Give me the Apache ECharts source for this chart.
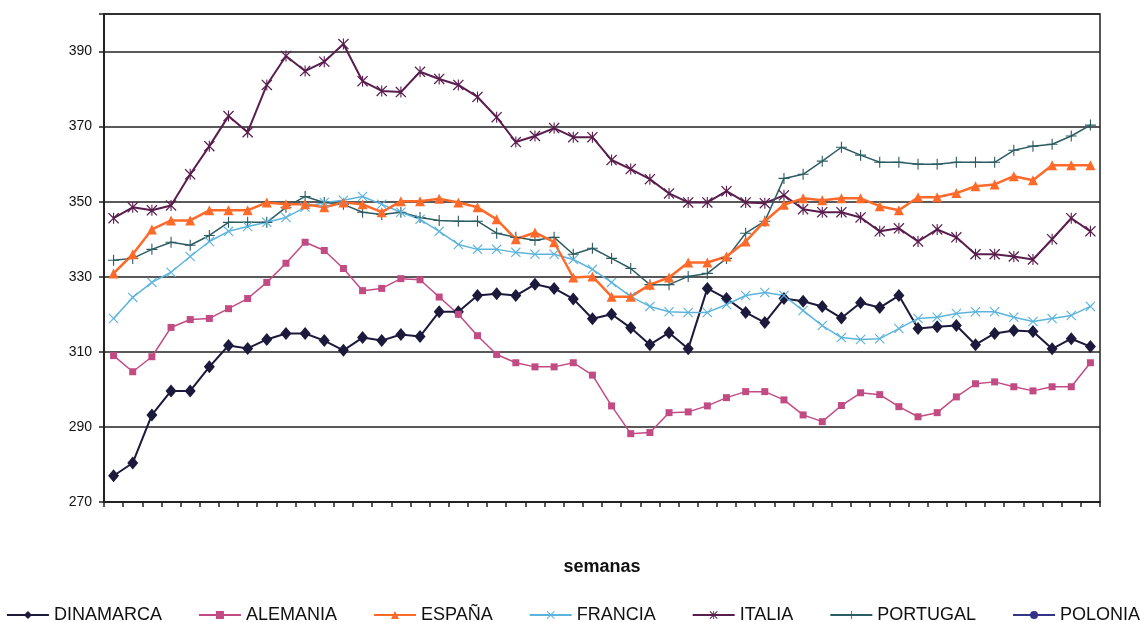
<!DOCTYPE html>
<html>
<head>
<meta charset="utf-8">
<script src="https://cdn.jsdelivr.net/npm/echarts@6/dist/echarts.min.js"></script>
<style>html,body{margin:0;padding:0;background:#fff}#c{width:1146px;height:622px}</style>
</head>
<body>
<div id="c"></div>
<script>
const weeks = ['1','2','3','4','5','6','7','8','9','10','11','12','13','14','15','16','17','18','19','20','21','22','23','24','25','26','27','28','29','30','31','32','33','34','35','36','37','38','39','40','41','42','43','44','45','46','47','48','49','50','51','52'];
const yTicks = [270, 290, 310, 330, 350, 370, 390];

const dinamarca = [277, 280.4, 293.2, 299.6, 299.6, 306, 311.7, 310.9, 313.3, 314.9, 314.9, 313, 310.4, 313.8, 313, 314.6, 314.1, 320.7, 320.7, 325, 325.5, 325, 328, 326.9, 324.1, 318.8, 320, 316.4, 311.9, 315.1, 310.8, 326.9, 324.2, 320.5, 317.8, 324.2, 323.5, 322.1, 319, 323.1, 321.8, 325, 316.2, 316.7, 317, 311.9, 314.9, 315.7, 315.4, 310.8, 313.5, 311.4];
const alemania = [309, 304.7, 308.7, 316.5, 318.6, 318.9, 321.5, 324.2, 328.5, 333.6, 339.2, 337, 332.2, 326.3, 326.9, 329.5, 329.2, 324.6, 320, 314.3, 309.3, 307.1, 306, 306, 307.1, 303.8, 295.6, 288.2, 288.5, 293.8, 294, 295.6, 297.8, 299.4, 299.4, 297.2, 293.2, 291.4, 295.7, 299.1, 298.6, 295.4, 292.7, 293.8, 298, 301.5, 302, 300.7, 299.6, 300.7, 300.7, 307.1];
const espana = [330.9, 336, 342.6, 345, 345, 347.7, 347.7, 347.7, 349.8, 349.3, 349.3, 348.5, 349.8, 349.3, 347.2, 350.1, 350.1, 350.8, 349.8, 348.5, 345.3, 340, 341.8, 339.2, 329.8, 330.1, 324.7, 324.7, 327.9, 329.8, 333.8, 333.8, 335.4, 339.4, 344.8, 349.2, 350.9, 350.4, 350.9, 350.9, 348.8, 347.7, 351.2, 351.2, 352.3, 354.1, 354.6, 356.8, 355.7, 359.7, 359.7, 359.7];
const francia = [318.9, 324.5, 328.5, 331.2, 335.4, 339.4, 342.1, 343.4, 344.5, 345.8, 348.5, 349.8, 350.4, 351.4, 349.3, 347.2, 345.3, 342.1, 338.6, 337.3, 337.3, 336.5, 336, 336, 334.6, 332, 328.5, 324.7, 322.1, 320.7, 320.5, 320.5, 322.6, 325, 325.8, 325, 321, 317, 313.8, 313.3, 313.5, 316.2, 318.9, 319.2, 320.2, 320.7, 320.7, 319.2, 318.1, 318.9, 319.7, 322.1];
const italia = [345.6, 348.5, 347.7, 349, 357.3, 364.8, 372.8, 368.5, 381.1, 388.8, 384.8, 387.3, 392, 382.1, 379.5, 379.2, 384.6, 382.7, 381.1, 377.9, 372.5, 365.9, 367.5, 369.6, 367.2, 367.2, 361.1, 358.7, 356, 352.2, 349.8, 349.8, 352.8, 349.8, 349.6, 351.7, 348, 347.2, 347.2, 345.8, 342.1, 342.9, 339.4, 342.6, 340.5, 336, 336, 335.4, 334.6, 340, 345.6, 342.1];
const portugal = [334.4, 334.9, 337.3, 339.2, 338.4, 341, 344.5, 344.5, 344.5, 348.5, 351.4, 349.8, 349.3, 347.2, 346.6, 347.2, 345.8, 345, 344.8, 344.8, 341.6, 340.5, 339.7, 340.5, 336, 337.6, 334.9, 332.2, 327.9, 327.9, 330.1, 330.9, 334.9, 341.6, 344.8, 356.2, 357.3, 360.8, 364.5, 362.4, 360.5, 360.5, 360, 360, 360.5, 360.5, 360.5, 363.7, 364.8, 365.3, 367.5, 370.4];
const polonia = [];

const X_PATH = 'path://M0,1.6L1.6,0L10,8.4L18.4,0L20,1.6L11.6,10L20,18.4L18.4,20L10,11.6L1.6,20L0,18.4L8.4,10Z';
const PLUS_PATH = 'path://M9,0H11V9H20V11H11V20H9V11H0V9H9Z';
const STAR_PATH = 'path://M0,1.6L1.6,0L10,8.4L18.4,0L20,1.6L11.6,10L20,18.4L18.4,20L10,11.6L1.6,20L0,18.4L8.4,10Z M9,0H11V20H9Z';

function mk(name, data, color, symbol, size, width) {
  return {
    name: name, type: 'line', data: data, symbol: symbol, symbolSize: size,
    showAllSymbol: true, animation: false,
    lineStyle: { color: color, width: width },
    itemStyle: { color: color, borderWidth: 0 }
  };
}

const chart = echarts.init(document.getElementById('c'), null, { renderer: 'canvas' });
chart.setOption({
  backgroundColor: '#ffffff',
  animation: false,
  grid: { left: 104, right: 46, top: 14, bottom: 120, show: true, borderColor: '#222', borderWidth: 1.5, backgroundColor: 'transparent' },
  xAxis: {
    type: 'category', data: weeks, boundaryGap: true,
    name: 'semanas', nameLocation: 'middle', nameGap: 56,
    nameTextStyle: { fontFamily: 'Liberation Sans, Arial, sans-serif', fontSize: 18, fontWeight: 'bold', color: '#111' },
    axisLine: { lineStyle: { color: '#222', width: 2 } },
    axisTick: { show: true, length: 5, lineStyle: { color: '#222', width: 1.5 } },
    axisLabel: { show: false },
    splitLine: { show: false }
  },
  yAxis: {
    type: 'value', min: 270, max: 400, interval: 20,
    axisLine: { show: true, lineStyle: { color: '#222', width: 2 } },
    axisTick: { show: true, length: 5, lineStyle: { color: '#222', width: 1.5 } },
    axisLabel: {
      margin: 12, fontFamily: 'Liberation Sans, Arial, sans-serif', fontSize: 14, color: '#111',
      formatter: function (v) { return yTicks.indexOf(v) >= 0 ? String(v) : ''; }
    },
    splitLine: { show: true, lineStyle: { color: '#222', width: 1.5 } }
  },
  legend: {
    top: 601, left: 'center', itemWidth: 42, itemHeight: 10, itemGap: 36,
    textStyle: { fontFamily: 'Liberation Sans, Arial, sans-serif', fontSize: 18, color: '#111' },
    data: ['DINAMARCA', 'ALEMANIA', 'ESPAÑA', 'FRANCIA', 'ITALIA', 'PORTUGAL', 'POLONIA']
  },
  series: [
    mk('DINAMARCA', dinamarca, '#1c1a3c', 'diamond', [11, 13], 2),
    mk('ALEMANIA', alemania, '#c24b84', 'rect', 7, 1.5),
    mk('ITALIA', italia, '#5a1e4e', STAR_PATH, 11, 2),
    mk('PORTUGAL', portugal, '#2b5c62', PLUS_PATH, 11, 1.5),
    mk('FRANCIA', francia, '#5cb4dc', X_PATH, 10, 1.5),
    mk('ESPAÑA', espana, '#ff6a2a', 'triangle', 10, 2.5),
    mk('POLONIA', polonia, '#333388', 'circle', 3, 1.5)
  ]
});
</script>
</body>
</html>
